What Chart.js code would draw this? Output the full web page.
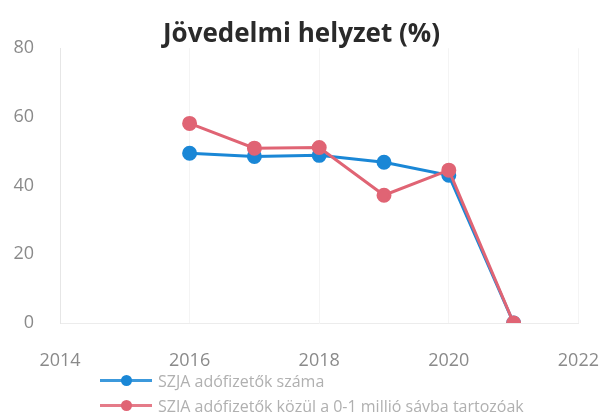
<!DOCTYPE html>
<html>
<head>
<meta charset="utf-8">
<script src="https://cdn.jsdelivr.net/npm/chart.js@4/dist/chart.umd.min.js"></script>
<style>
    html, body { margin: 0; padding: 0; background: #fff; }
    #wrap { position: relative; width: 603px; height: 412px; overflow: hidden; }
    #legend { position: absolute; left: 100px; top: 368px; font-family: "Open Sans", sans-serif; font-size: 16px; color: #b0b0b0; white-space: nowrap; }
    .item { display: flex; align-items: center; height: 25px; }
    .sym { position: relative; width: 52px; height: 12px; margin-right: 6px; }
    .sym .ln { position: absolute; left: 0; right: 0; top: 4px; height: 3px; opacity: 0.85; }
    .sym .dot { position: absolute; left: 21px; top: 0; width: 11px; height: 11px; border-radius: 50%; }
</style>
</head>
<body>
<div id="wrap">
    <canvas id="chart" width="603" height="412"></canvas>
    <div id="legend"></div>
</div>
<script>
const years = [2016, 2017, 2018, 2019, 2020, 2021];
const szjaTotal = [49.4, 48.5, 48.8, 46.8, 43.0, 0];
const szjaLow = [58.1, 50.9, 51.1, 37.2, 44.5, 0];
const seriesNames = ['SZJA adófizetők száma', 'SZJA adófizetők közül a 0-1 millió sávba tartozóak'];
const seriesColors = ['#1a87d6', '#e06474'];
const xTicks = [2014, 2016, 2018, 2020, 2022];
const yTicks = [0, 20, 40, 60, 80];

function toPoints(values) {
    return values.map((v, i) => ({x: years[i], y: v}));
}

// red series sits on top of the blue one
const datasets = [szjaTotal, szjaLow].map((values, i) => ({
    label: seriesNames[i],
    data: toPoints(values),
    borderColor: seriesColors[i],
    backgroundColor: seriesColors[i],
    borderWidth: 3,
    pointRadius: 6,
    pointHoverRadius: 6,
    tension: 0,
    order: 1 - i
}));

new Chart(document.getElementById('chart'), {
    type: 'line',
    data: {datasets: datasets},
    options: {
        responsive: false,
        animation: false,
        layout: {padding: {left: 0, right: 0, top: 19, bottom: 0}},
        plugins: {
            legend: {display: false},
            tooltip: {enabled: false},
            title: {
                display: true,
                text: 'Jövedelmi helyzet (%)',
                color: '#2a2a2a',
                font: {family: 'Open Sans', size: 26, weight: 'bold'},
                padding: {top: 0, bottom: -2}
            }
        },
        scales: {
            x: {
                type: 'linear',
                min: xTicks[0],
                max: xTicks[xTicks.length - 1],
                afterBuildTicks: (scale) => { scale.ticks = xTicks.map(v => ({value: v})); },
                ticks: {
                    color: '#8a8a8a',
                    // tall line height pushes the labels down without widening the right gap
                    font: {family: 'Open Sans', size: 18, lineHeight: 3.8},
                    padding: 4,
                    maxRotation: 0,
                    callback: (v) => String(v)
                },
                grid: {color: '#f4f4f4', drawTicks: false},
                border: {color: '#ececec'},
                afterFit: (scale) => { scale.height = 89; }
            },
            y: {
                min: 0,
                max: 80,
                afterBuildTicks: (scale) => { scale.ticks = yTicks.map(v => ({value: v})); },
                ticks: {
                    color: '#8a8a8a',
                    font: {family: 'Open Sans', size: 18},
                    padding: 26
                },
                grid: {display: false, drawTicks: false},
                border: {color: '#e6e6e6'},
                afterFit: (scale) => { scale.width = 60; }
            }
        }
    }
});

const legend = document.getElementById('legend');
seriesNames.forEach((name, i) => {
    const item = document.createElement('div');
    item.className = 'item';
    item.innerHTML = '<span class="sym"><span class="ln" style="background:' + seriesColors[i] + '"></span>' +
        '<span class="dot" style="background:' + seriesColors[i] + '"></span></span><span>' + name + '</span>';
    legend.appendChild(item);
});
</script>
</body>
</html>
